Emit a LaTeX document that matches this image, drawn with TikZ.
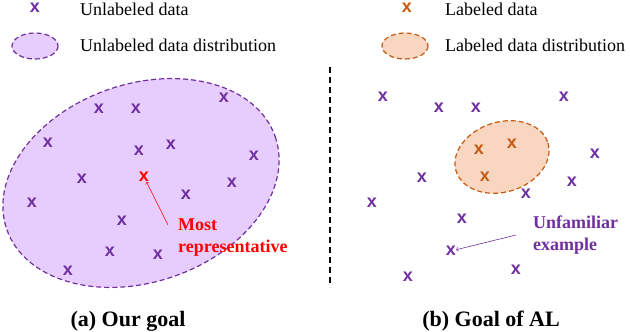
\documentclass[tikz,border=0pt]{standalone}
\usepackage{fontspec}
\setmainfont{Liberation Serif}
\newfontfamily\crossfont{Liberation Sans}
\definecolor{unlpurple}{HTML}{7030A0}
\definecolor{unlfill}{HTML}{E6CDFD}
\definecolor{laborange}{HTML}{C55A11}
\definecolor{labfill}{HTML}{F8D6C0}

\begin{document}
\begin{tikzpicture}[x=1pt, y=-1pt,
    unl/.style={text=unlpurple, font=\crossfont\bfseries\fontsize{18}{18}\selectfont, inner sep=0pt},
    lab/.style={unl, text=laborange},
    legend/.style={anchor=west, font=\fontsize{18}{20}\selectfont, inner sep=0pt},
    dist/.style={line width=1.2pt, dash pattern=on 5pt off 3pt},
    ]
            \useasboundingbox (0,0) rectangle (630,332);

            % legend
            \node[unl] (legu) at (35,8) {x};
            \node[legend] (legutext) at (80,9) {Unlabeled data};
            \draw[dist, unlpurple, fill=unlfill] (35,46) ellipse [x radius=23, y radius=13];
            \node[legend] (legudist) at (80,45) {Unlabeled data distribution};

            \node[lab] (legl) at (407,8) {x};
            \node[legend] (legltext) at (445,9) {Labeled data};
            \draw[dist, laborange, fill=labfill] (405,46) ellipse [x radius=23, y radius=13];
            \node[legend] (legldist) at (445,45) {Labeled data distribution};

            % (a) our goal
            \begin{scope}
                \draw[dist, unlpurple, fill=unlfill, shift={(141,183)}, rotate=19]
                    (0,0) ellipse [x radius=142, y radius=99];

                \foreach \p/\q [count=\i] in {99/109, 136/109, 224/98, 48/143, 139/151,
                    171/145, 254/156, 82/179, 232/183, 32/203, 186/195, 122/221,
                    110/252, 158/255, 68/271}{
                    \node[unl] (a\i) at (\p,\q) {x};
                }
                \node[unl, text=red] (rep) at (144,177) {x};

                \node[anchor=north west, align=left, inner sep=0pt, text=red,
                    font=\bfseries\fontsize{18}{22}\selectfont] (replbl) at (178,219)
                    {Most\\representative};
                \coordinate (reptail) at (168,225);
                \draw[->, red, line width=0.6pt] (reptail) -- (rep);

                \node[font=\bfseries\fontsize{22}{24}\selectfont, inner sep=0pt] (capa)
                    at (128,321) {(a) Our goal};
            \end{scope}

            \draw[line width=1.5pt, dash pattern=on 6pt off 4pt] (330,67) -- (330,287);

            % (b) goal of AL
            \begin{scope}
                \draw[dist, laborange, fill=labfill, shift={(502,157)}, rotate=17]
                    (0,0) ellipse [x radius=48, y radius=35];

                \foreach \p/\q [count=\i] in {383/97, 439/108, 476/108, 564/97, 595/154,
                    422/178, 372/203, 572/182, 526/194, 462/219, 408/277, 516/270}{
                    \node[unl] (b\i) at (\p,\q) {x};
                }
                \node[unl] (unf) at (451,251) {x};

                \foreach \p/\q [count=\i] in {479/150, 512/144, 485/177}{
                    \node[lab] (l\i) at (\p,\q) {x};
                }

                \node[anchor=north west, align=left, inner sep=0pt, text=unlpurple,
                    font=\bfseries\fontsize{18}{22}\selectfont] (unflbl) at (533,216)
                    {Unfamiliar\\example};
                \coordinate (unftail) at (516,235);
                \draw[->, unlpurple, line width=0.6pt] (unftail) -- (unf);

                \node[font=\bfseries\fontsize{22}{24}\selectfont, inner sep=0pt] (capb)
                    at (491,321) {(b) Goal of AL};
            \end{scope}
        \end{tikzpicture}
\end{document}
